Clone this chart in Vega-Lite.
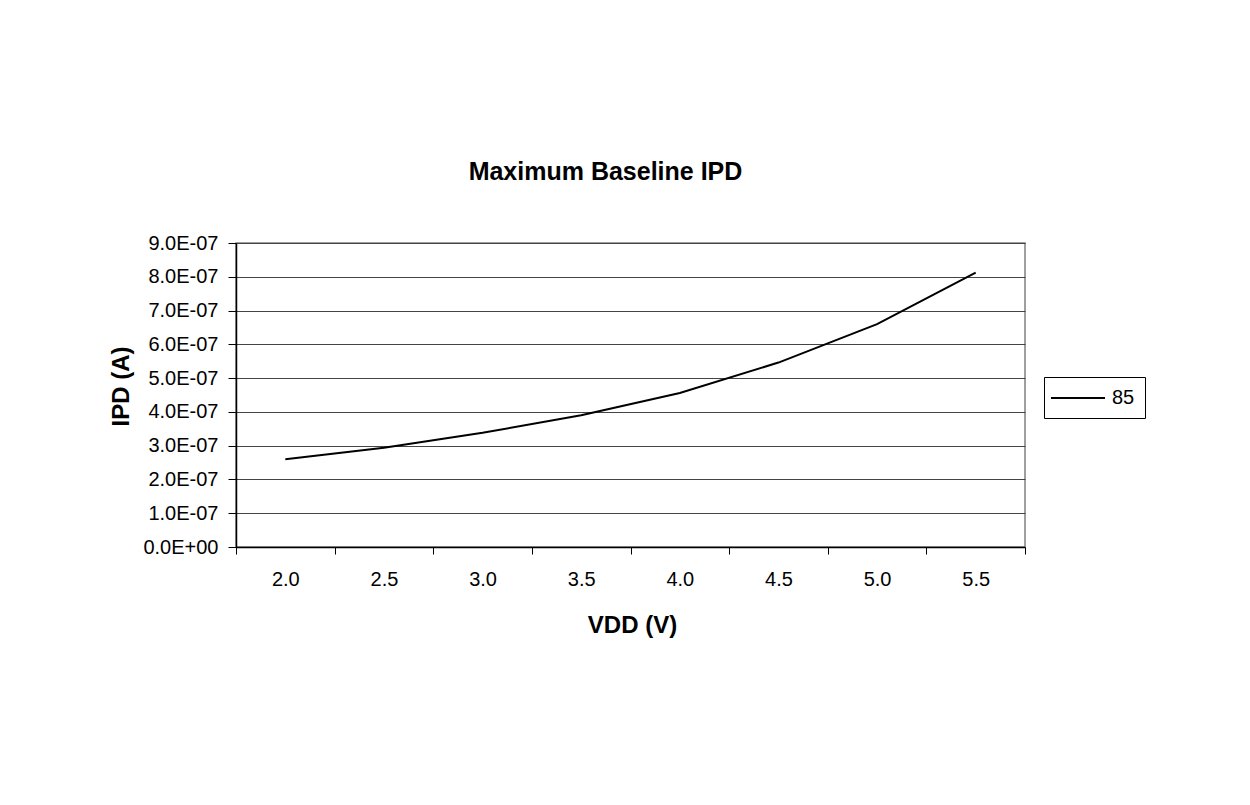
{
  "$schema": "https://vega.github.io/schema/vega-lite/v6.json",
  "width": 789,
  "height": 304,
  "autosize": {"type": "none"},
  "padding": {"left": 236, "top": 243, "right": 225, "bottom": 258},
  "background": "white",
  "config": {
    "font": "Liberation Sans",
    "view": {"stroke": "#808080", "strokeWidth": 1.5}
  },
  "title": {
    "text": "Maximum Baseline IPD",
    "font": "Liberation Sans",
    "fontSize": 25,
    "fontWeight": "bold",
    "color": "#000000",
    "anchor": "middle",
    "dx": -25,
    "offset": 48
  },
  "data": {
    "values": [
      {"vdd": "2.0", "ipd": 2.60e-7, "series": "85"},
      {"vdd": "2.5", "ipd": 2.94e-7, "series": "85"},
      {"vdd": "3.0", "ipd": 3.38e-7, "series": "85"},
      {"vdd": "3.5", "ipd": 3.90e-7, "series": "85"},
      {"vdd": "4.0", "ipd": 4.56e-7, "series": "85"},
      {"vdd": "4.5", "ipd": 5.46e-7, "series": "85"},
      {"vdd": "5.0", "ipd": 6.60e-7, "series": "85"},
      {"vdd": "5.5", "ipd": 8.12e-7, "series": "85"}
    ]
  },
  "mark": {"type": "line", "strokeWidth": 2},
  "encoding": {
    "x": {
      "field": "vdd",
      "type": "ordinal",
      "bandPosition": 0.5,
      "scale": {"type": "band", "paddingInner": 0, "paddingOuter": 0},
      "axis": {
        "title": "VDD (V)",
        "labelAngle": 0,
        "tickBand": "extent",
        "tickSize": 7,
        "tickColor": "#000000",
        "domainColor": "#000000",
        "domainWidth": 1.5,
        "labelFontSize": 20,
        "labelColor": "#000000",
        "labelPadding": 15,
        "titleFontSize": 24,
        "titleFontWeight": "bold",
        "titleColor": "#000000",
        "titleX": 396,
        "titleY": 85,
        "titleBaseline": "alphabetic",
        "titleAlign": "center",
        "grid": false
      }
    },
    "y": {
      "field": "ipd",
      "type": "quantitative",
      "scale": {"domain": [0, 9e-7], "nice": false, "zero": true},
      "axis": {
        "title": "IPD (A)",
        "values": [0, 1e-7, 2e-7, 3e-7, 4e-7, 5e-7, 6e-7, 7e-7, 8e-7, 9e-7],
        "labelExpr": "replace(replace(upper(format(datum.value, '.1e')), 'E-', 'E-0'), 'E+', 'E+0')",
        "grid": true,
        "gridColor": "#444444",
        "gridWidth": 1.2,
        "tickSize": 8,
        "tickColor": "#000000",
        "domainColor": "#000000",
        "domainWidth": 1.5,
        "labelFontSize": 20,
        "labelColor": "#000000",
        "labelPadding": 10,
        "titleFontSize": 24,
        "titleFontWeight": "bold",
        "titleColor": "#000000",
        "titleAngle": -90,
        "titleX": -115,
        "titleY": 143,
        "titleBaseline": "middle",
        "titleAlign": "center"
      }
    },
    "color": {
      "field": "series",
      "type": "nominal",
      "scale": {"range": ["#000000"]},
      "legend": {
        "title": null,
        "orient": "none",
        "legendX": 808,
        "legendY": 134,
        "strokeColor": "#000000",
        "padding": 10,
        "symbolType": "M-1.4,0H4.0",
        "symbolSize": 400,
        "symbolStrokeWidth": 2,
        "labelFontSize": 20,
        "labelColor": "#000000",
        "labelOffset": 36
      }
    }
  }
}
